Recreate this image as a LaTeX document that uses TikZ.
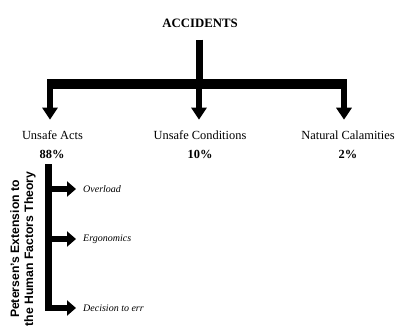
\documentclass[tikz,border=0pt]{standalone}
\usepackage{fontspec}
\setmainfont{Liberation Serif}
\newfontfamily\sansb{Liberation Sans}
\usetikzlibrary{arrows.meta}
\begin{document}
\begin{tikzpicture}[x=1pt,y=-1pt,
  lbl/.style={inner sep=0pt, font=\fontsize{12.4}{14}\selectfont},
  pct/.style={inner sep=0pt, font=\fontsize{12.4}{14}\selectfont\bfseries},
  sub/.style={inner sep=0pt, anchor=west, font=\fontsize{10}{12}\selectfont\itshape},
  hbar/.style={line width=10pt, line cap=butt},
  stem/.style={line width=7pt, line cap=butt},
  downarrow/.style={line width=6pt, -{Triangle[width=15pt,length=12pt]}},
  rarrow/.style={line width=6.5pt, line join=miter, -{Triangle[width=15pt,length=9pt]}},
]
\useasboundingbox (0,0) rectangle (396,325);
% texts
\node[inner sep=0pt, font=\fontsize{12.8}{14}\selectfont\bfseries] (acc) at (200,23) {ACCIDENTS};
\node[lbl] (ua) at (52.5,135) {Unsafe Acts};
\node[lbl] (uc) at (200,135) {Unsafe Conditions};
\node[lbl] (nc) at (348,135) {Natural Calamities};
\node[pct] (p1) at (52,154) {88\%};
\node[pct] (p2) at (200,154) {10\%};
\node[pct] (p3) at (348,154) {2\%};
\node[sub] (ov) at (83,189) {Overload};
\node[sub] (er) at (83,239) {Ergonomics};
\node[sub] (de) at (83,308) {Decision to err};
\node[rotate=90, align=center, inner sep=0pt,
      font=\sansb\bfseries\fontsize{12.2}{14}\selectfont] (th) at (23,249)
      {Petersen’s Extension to\\the Human Factors Theory};
% junctions
\coordinate (jc) at (199,84);
\coordinate (jl) at (50,84);
\coordinate (jr) at (344,84);
\coordinate (vt) at (48.5,164);
% top tree
\draw[stem, shorten <=12pt] (acc.south -| jc) -- (jc);
\draw[hbar, shorten <=-3pt, shorten >=-3pt] (jl) -- (jr);
\draw[downarrow, shorten >=10.7pt] (jl) -- (jl |- ua.north);
\draw[downarrow, shorten >=10.7pt] (jc) -- (jc |- uc.north);
\draw[downarrow, shorten >=10.7pt] (jr) -- (jr |- nc.north);
% lower branch
\draw[rarrow, shorten >=7pt] (vt) -- (vt |- de.west) -- (de.west);
\draw[rarrow, shorten >=7pt] (vt |- ov.west) -- (ov.west);
\draw[rarrow, shorten >=7pt] (vt |- er.west) -- (er.west);
\end{tikzpicture}
\end{document}
